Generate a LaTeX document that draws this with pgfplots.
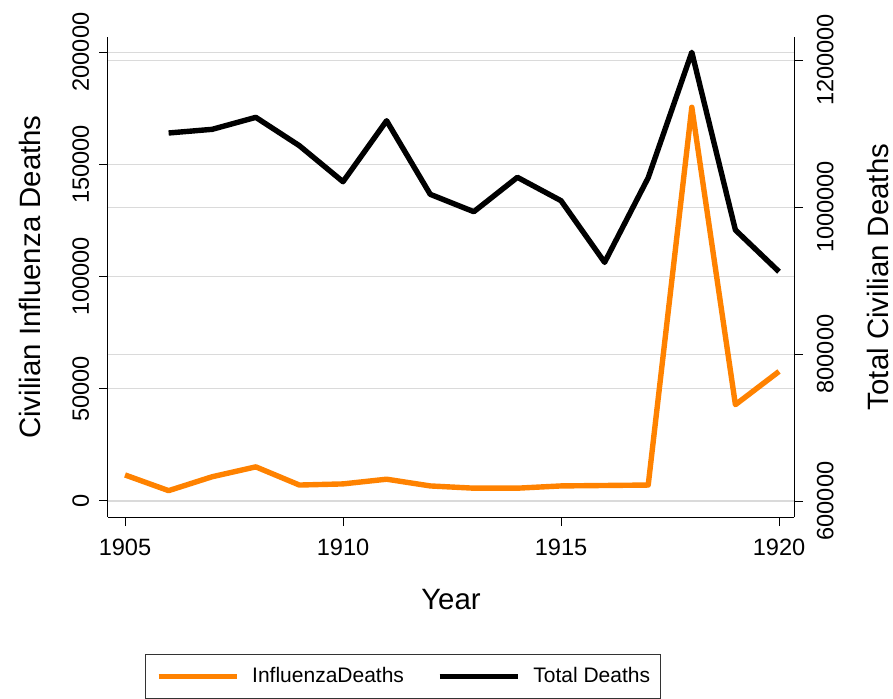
\documentclass[border=0pt]{standalone}
\usepackage{pgfplots}
\pgfplotsset{compat=1.18}
\usepackage{fontspec}
\setmainfont{Liberation Sans}
\definecolor{stataorange}{RGB}{255,130,0}
\definecolor{gridgray}{RGB}{218,218,218}

\pgfplotstableread{
year flu
1905 11600
1906 4600
1907 10800
1908 15200
1909 7100
1910 7600
1911 9700
1912 6700
1913 5700
1914 5700
1915 6700
1916 6900
1917 7100
1918 175400
1919 42900
1920 57700
}\flutable

\pgfplotstableread{
year total
1906 1100700
1907 1105700
1908 1122000
1909 1083400
1910 1034400
1911 1117400
1912 1017300
1913 993600
1914 1040400
1915 1008600
1916 924700
1917 1039900
1918 1210500
1919 968700
1920 912000
}\totaltable

\begin{document}
\begin{tikzpicture}
\useasboundingbox (0,0) rectangle (446.5pt,349pt);
\pgfplotsset{
  common/.style={
    at={(54pt,90.5pt)}, anchor=south west,
    scale only axis, width=343pt, height=240pt,
    xmin=1904.61, xmax=1920.344,
    scaled ticks=false,
    tick align=outside,
    major tick length=4.5pt,
    tick style={black, line width=0.5pt},
    axis line style={black, line width=0.5pt},
    ticklabel style={font=\fontsize{11.8}{13}\selectfont},
    grid style={gridgray, line width=0.5pt},
    clip=false,
  },
}
% grid for right scale
\begin{axis}[common,
  ymin=578231, ymax=1231293,
  ytick={600000,800000,1000000,1200000},
  yticklabels={},
  xtick=\empty,
  ymajorgrids,
  axis line style={draw=none},
  major tick style={draw=none},
]
\end{axis}
% left axis, influenza
\begin{axis}[common,
  axis x line*=bottom, axis y line*=left,
  ymin=-7143, ymax=206696,
  ytick={0,50000,100000,150000,200000},
  yticklabels={0,50000,100000,150000,200000},
  xtick={1905,1910,1915,1920},
  xticklabels={1905,1910,1915,1920},
  ymajorgrids,
  yticklabel style={xshift=-4.75pt, rotate=90, anchor=south, inner sep=0pt},
  xticklabel style={yshift=-6.25pt, anchor=north, inner sep=0pt},
  xlabel={Year},
  ylabel={Civilian Influenza Deaths},
  every axis x label/.style={at={(axis description cs:0.5,-0.1729)}, anchor=center, font=\fontsize{14.7}{16}\selectfont},
  every axis y label/.style={at={(axis description cs:-0.1137,0.5)}, rotate=90, anchor=center, font=\fontsize{14.7}{16}\selectfont},
]
\addplot[stataorange, line width=2.7pt, line join=round] table[x=year, y=flu] {\flutable};
\end{axis}
% right axis, total
\begin{axis}[common,
  axis y line*=right, axis x line=none,
  ymin=578231, ymax=1231293,
  ytick={600000,800000,1000000,1200000},
  yticklabels={600000,800000,1000000,1200000},
  yticklabel style={xshift=6.75pt, rotate=90, anchor=north, inner sep=0pt},
  ylabel={Total Civilian Deaths},
  every axis y label/.style={at={(axis description cs:1.1224,0.5)}, rotate=90, anchor=center, font=\fontsize{14.7}{16}\selectfont},
  legend image code/.code={\draw[#1] (0pt,0pt) -- (39pt,0pt);},
  legend columns=2,
  legend style={at={(axis description cs:0.43,-0.2854)}, anchor=north,
    draw=black!80, line width=0.5pt,
    font=\fontsize{10.5}{12}\selectfont,
    inner xsep=5pt, inner ysep=6pt,
    nodes={inner sep=0pt, text height=8pt, text depth=2pt},
    /tikz/every odd column/.append style={column sep=6.5pt},
    /tikz/every even column/.append style={column sep=16.5pt},
  },
]
\addlegendimage{stataorange, line width=2.7pt}
\addlegendentry{InfluenzaDeaths}
\addplot[black, line width=2.7pt, line join=round] table[x=year, y=total] {\totaltable};
\addlegendentry{Total Deaths}
\end{axis}
\end{tikzpicture}
\end{document}
